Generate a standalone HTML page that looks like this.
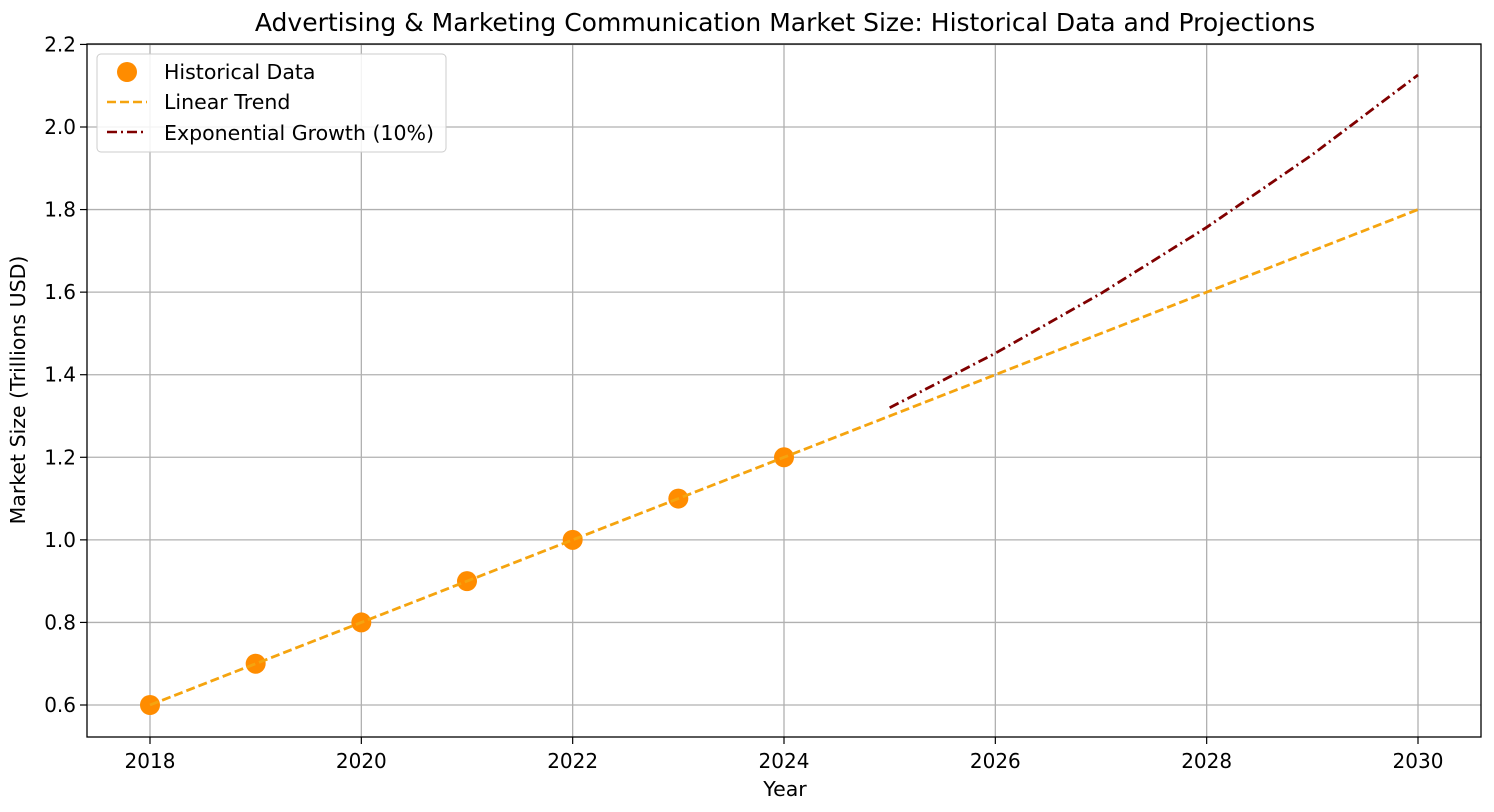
<!DOCTYPE html>
<html><head><meta charset="utf-8"><style>
body{margin:0;background:#fff;}
svg{display:block;font-family:"DejaVu Sans","Liberation Sans",sans-serif;}
</style></head><body>
<svg id="chart" width="1494" height="812">
<text x="785" y="31" text-anchor="middle" font-size="25" fill="#000">Advertising &amp; Marketing Communication Market Size: Historical Data and Projections</text>
<g id="grid"></g>
<g id="series"></g>
<rect x="87" y="44" width="1394" height="693" fill="none" stroke="#000" stroke-width="1.3"/>
<g id="axes"></g>
<text x="785" y="796" text-anchor="middle" font-size="20.5">Year</text>
<text transform="translate(25,390) rotate(-90)" text-anchor="middle" font-size="20.5">Market Size (Trillions USD)</text>
<g>
<rect x="97" y="54" width="349" height="98" rx="4" fill="#fff" fill-opacity="0.85" stroke="#ccc"/>
<circle cx="127" cy="72" r="10" fill="#ff8c00"/>
<text x="164" y="79" font-size="20.5">Historical Data</text>
<line x1="107" y1="102" x2="147" y2="102" stroke="#f5a40f" stroke-width="2.5" stroke-dasharray="9,4"/>
<text x="164" y="109" font-size="20.5">Linear Trend</text>
<line x1="107" y1="132" x2="147" y2="132" stroke="#800000" stroke-width="2.5" stroke-dasharray="10,4,2,4"/>
<text x="164" y="140" font-size="20.5">Exponential Growth (10%)</text>
</g>
</svg>
<script>
const histYears=[2018,2019,2020,2021,2022,2023,2024];
const histValues=[0.6,0.7,0.8,0.9,1.0,1.1,1.2];
const trendYears=[2018,2030];
const trendValues=[0.6,1.8];
const expYears=[2025,2026,2027,2028,2029,2030];
const expValues=[1.32,1.452,1.597,1.757,1.933,2.126];
const xTicks=[2018,2020,2022,2024,2026,2028,2030];
const yTicks=[0.6,0.8,1.0,1.2,1.4,1.6,1.8,2.0,2.2];
const NS="http://www.w3.org/2000/svg";
const X=v=>150+(v-2018)*(1418-150)/12;
const Y=v=>705-(v-0.6)*(705-127)/1.4;
function mk(tag,attrs,parent){const e=document.createElementNS(NS,tag);for(const k in attrs)e.setAttribute(k,attrs[k]);parent.appendChild(e);return e;}
const grid=document.getElementById('grid'),axes=document.getElementById('axes'),ser=document.getElementById('series');
xTicks.forEach(t=>{
 const g=mk('line',{x1:X(t),x2:X(t),y1:44,y2:737,stroke:'#b0b0b0','stroke-width':1.3},grid);
 
 
 mk('line',{x1:X(t),x2:X(t),y1:737,y2:744,stroke:'#000','stroke-width':1.2},axes);
 const tx=mk('text',{x:X(t),y:768,'text-anchor':'middle','font-size':20},axes);tx.textContent=t;
 
 
});
yTicks.forEach(t=>{
 const g=mk('line',{x1:87,x2:1481,y1:Y(t),y2:Y(t),stroke:'#b0b0b0','stroke-width':1.3},grid);
 
 
 mk('line',{x1:80,x2:87,y1:Y(t),y2:Y(t),stroke:'#000','stroke-width':1.2},axes);
 const tx=mk('text',{x:76,y:Y(t)+7,'text-anchor':'end','font-size':20},axes);tx.textContent=t.toFixed(1);
 
 
});
histYears.forEach((y,i)=>{
 const c=mk('circle',{cx:X(y),cy:Y(histValues[i]),r:10,fill:'#ff8c00'},ser);
 
 
});
const lt=mk('polyline',{points:trendYears.map((y,i)=>X(y)+','+Y(trendValues[i])).join(' '),fill:'none',stroke:'#f5a40f','stroke-width':2.8,'stroke-dasharray':'9,4'},ser);


const ex=mk('polyline',{points:expYears.map((y,i)=>X(y)+','+Y(expValues[i])).join(' '),fill:'none',stroke:'#800000','stroke-width':2.8,'stroke-dasharray':'10,4,2,4'},ser);


</script>
</body></html>
